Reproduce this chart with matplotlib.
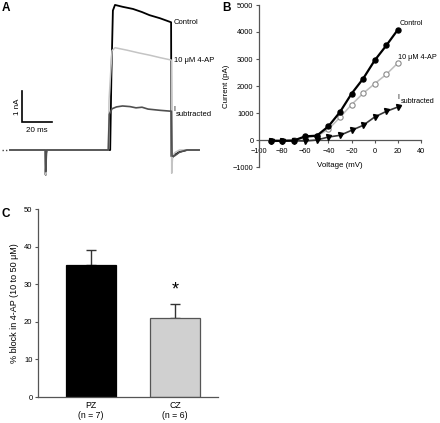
import matplotlib
matplotlib.use("Agg")
import matplotlib.pyplot as plt

plt.rcParams['font.family'] = ['Liberation Sans', 'DejaVu Sans']

# ---------------- Panel A: current traces (t in ms, I in nA) ----------------
ctrl_t = [0, 23.6, 23.8, 24.2, 24.6, 66.8, 67.6, 68.6, 70, 75, 82, 88, 93, 100, 107.4, 107.6, 108.2, 110, 113, 118, 126]
ctrl_i = [0, 0, -0.8, -0.1, 0, 0, 2.4, 4.5, 4.68, 4.62, 4.55, 4.45, 4.35, 4.25, 4.12, -0.2, -0.24, -0.15, -0.06, 0, 0]

ap_t = [0, 23.6, 23.8, 24.2, 24.6, 65.6, 66.0, 68.0, 70, 78, 86, 93, 100, 107.6, 107.8, 108.4, 110, 113, 126]
ap_i = [0, 0, -0.8, -0.1, 0, 0, 1.6, 3.2, 3.3, 3.22, 3.13, 3.06, 2.98, 2.90, -0.75, -0.2, -0.08, 0, 0]

sub_t = [0, 23.6, 23.8, 24.2, 24.6, 65.5, 66.2, 68, 71, 75, 80, 84, 88, 92, 96, 100, 107.6, 108.0, 110, 113, 118, 126]
sub_i = [0, 0, -0.7, -0.05, 0, 0, 1.15, 1.33, 1.39, 1.42, 1.40, 1.36, 1.38, 1.32, 1.30, 1.28, 1.25, -0.2, -0.18, -0.07, 0, 0]

# ---------------- Panel B: I-V relation ----------------
voltage = [-90, -80, -70, -60, -50, -40, -30, -20, -10, 0, 10, 20]
iv_control = [-30, -30, -20, 136, 160, 506, 1037, 1716, 2272, 2950, 3500, 4086]
iv_4ap = [-20, -20, -10, 86, 136, 395, 840, 1309, 1728, 2086, 2430, 2852]
iv_sub = [-50, -40, -30, -37, 0, 111, 173, 358, 543, 852, 1060, 1222]

# ---------------- Panel C: bar chart ----------------
groups = ["PZ\n(n = 7)", "CZ\n(n = 6)"]
block = [35.0, 21.0]
block_err = [4.2, 3.8]

W, H = 440, 423
fig = plt.figure(figsize=(W / 100, H / 100), dpi=100)


def rect(x0, y0, x1, y1):
    return [x0 / W, 1 - y1 / H, (x1 - x0) / W, (y1 - y0) / H]


# ---- Panel A ----
axA = fig.add_axes(rect(0, 0, 200, 180))
axA.set_xlim(-20 / 3, 190 * 2 / 3)
axA.set_ylim(-30 / 31, 150 / 31)
axA.axis('off')
axA.plot(ctrl_t, ctrl_i, color='black', lw=1.3)
axA.plot(ap_t, ap_i, color='#c4c4c4', lw=1.1)
axA.plot(sub_t, sub_i, color='#505050', lw=1.2)
axA.plot([-5.3, -1.0], [0, 0], color='#444444', lw=1.0, ls=(0, (1, 1.5)))
# scale bar
axA.plot([8.2, 8.2, 28.2], [1.9, 0.9, 0.9], color='black', lw=1.2, solid_joinstyle='miter')
axA.text(5.2, 1.4, "1 nA", rotation=90, ha='center', va='center', fontsize=5.8)
axA.text(18.2, 0.62, "20 ms", ha='center', va='center', fontsize=5.8)
axA.text(109.3, 4.10, "Control", ha='left', va='center', fontsize=5.5)
axA.text(109.3, 2.90, "10 \u03bcM 4-AP", ha='left', va='center', fontsize=5.5)
axA.text(109.0, 1.30, "I", ha='left', va='center', fontsize=5.2)
axA.text(110.8, 1.14, "subtracted", ha='left', va='center', fontsize=5.5)
fig.text(2 / W, 1 - 2 / H, "A", fontsize=8.5, fontweight='bold', ha='left', va='top')

# ---- Panel B ----
axB = fig.add_axes(rect(259, 5, 421, 167))
axB.set_xlim(-100, 40)
axB.set_ylim(-1000, 5000)
axB.spines['top'].set_visible(False)
axB.spines['right'].set_visible(False)
axB.spines['bottom'].set_position(('data', 0))
for s in ('left', 'bottom'):
    axB.spines[s].set_color('#555555')
    axB.spines[s].set_linewidth(0.9)
axB.plot(voltage, iv_4ap, color='#bdbdbd', lw=1.1, marker='o', ms=3.8,
         mfc='white', mec='#8a8a8a', mew=0.8, zorder=3)
axB.plot(voltage, iv_sub, color='#383838', lw=1.2, marker='v', ms=3.6,
         mfc='black', mec='black', zorder=4)
axB.plot(voltage, iv_control, color='black', lw=1.6, marker='o', ms=3.6,
         mfc='black', mec='black', zorder=5)
axB.set_xticks(range(-100, 41, 20))
axB.set_yticks(range(-1000, 5001, 1000))
axB.tick_params(axis='both', labelsize=5.3, length=2, width=0.8, color='#555555', pad=2)
axB.tick_params(axis='x', pad=3.5)
axB.set_xlabel("Voltage (mV)", fontsize=5.7, labelpad=5)
axB.set_ylabel("Current (pA)", fontsize=5.7, labelpad=2)
axB.text(31.4, 4322, "Control", ha='center', va='center', fontsize=5.2)
axB.text(20.1, 3070, "10 \u03bcM 4-AP", ha='left', va='center', fontsize=5.2)
axB.text(19.8, 1570, "I", ha='left', va='center', fontsize=5.0)
axB.text(22.8, 1444, "subtracted", ha='left', va='center', fontsize=5.2)
fig.text(222 / W, 1 - 2 / H, "B", fontsize=8.5, fontweight='bold', ha='left', va='top')

# ---- Panel C ----
axC = fig.add_axes(rect(38, 209, 218, 397))
x = [0, 1]
axC.bar(x, block, width=0.607, color=['black', '#d0d0d0'],
        edgecolor=['black', '#555555'], linewidth=0.9, zorder=2)
axC.errorbar(x, block, yerr=[[0, 0], block_err], fmt='none', ecolor='#333333',
             elinewidth=1.0, capsize=3.8, capthick=1.0, zorder=1)
axC.set_xlim(-0.631, 1.512)
axC.set_ylim(0, 50)
axC.spines['top'].set_visible(False)
axC.spines['right'].set_visible(False)
for s in ('left', 'bottom'):
    axC.spines[s].set_color('#555555')
    axC.spines[s].set_linewidth(0.9)
axC.set_xticks(x)
axC.set_xticklabels(groups, fontsize=6.3, linespacing=1.15)
axC.tick_params(axis='x', length=0, pad=3)
axC.set_yticks(range(0, 51, 10))
axC.tick_params(axis='y', labelsize=5.5, length=2, width=0.8, color='#555555', pad=2)
axC.set_ylabel("% block in 4-AP (10 to 50 \u03bcM)", fontsize=6.5, labelpad=4)
axC.text(1, 28.5, "*", ha='center', va='center', fontsize=13)
fig.text(2 / W, 1 - 208 / H, "C", fontsize=8.5, fontweight='bold', ha='left', va='top')

fig.savefig("out.png", dpi=100)
